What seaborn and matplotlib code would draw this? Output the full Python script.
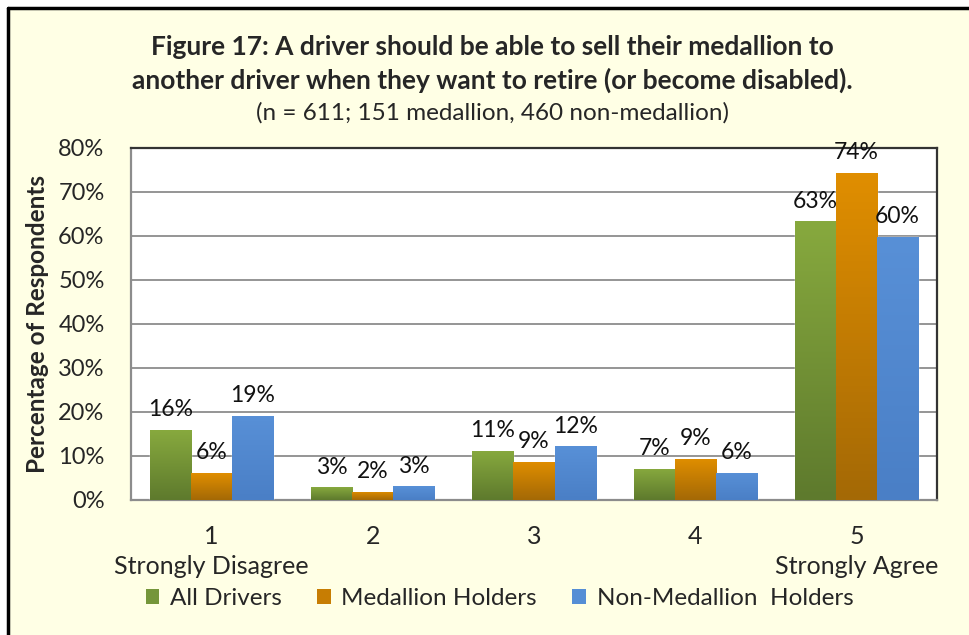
import numpy as np
import pandas as pd
import matplotlib
matplotlib.use("Agg")
import matplotlib.pyplot as plt
import seaborn as sns
from matplotlib.colors import LinearSegmentedColormap
from matplotlib.patches import Patch

# data
categories = ["1", "2", "3", "4", "5"]
tick_labels = ["1\nStrongly Disagree", "2", "3", "4", "5\nStrongly Agree"]
groups = ["All Drivers", "Medallion Holders", "Non-Medallion  Holders"]
all_drivers = [15.9, 2.9, 11.2, 7.1, 63.3]
medallion = [6.1, 1.9, 8.7, 9.4, 74.3]
non_medallion = [19.1, 3.1, 12.2, 6.2, 59.8]

df = pd.DataFrame({
    "category": categories * 3,
    "group": [groups[0]] * 5 + [groups[1]] * 5 + [groups[2]] * 5,
    "value": all_drivers + medallion + non_medallion,
})

# top / bottom colours of the bar gradients
grad = {
    groups[0]: ("#87A93E", "#5E7A2D"),
    groups[1]: ("#E08E00", "#A46906"),
    groups[2]: ("#5890D7", "#4A7FC6"),
}
mid = {"All Drivers": "#75963A", "Medallion Holders": "#C77D03",
       "Non-Medallion  Holders": "#558ED5"}

sns.set_theme(style="white")
plt.rcParams["font.family"] = ["Lato", "DejaVu Sans"]

bg = "#FFFFE5"
fig = plt.figure(figsize=(9.7, 6.35), dpi=100, facecolor="white")
# cream panel with black frame on left/top (cut off on right/bottom)
fig.patches.append(plt.Rectangle((8 / 970, 0), 1, 1 - 8 / 635, transform=fig.transFigure,
                                 facecolor=bg, edgecolor="none", zorder=-2))
fig.add_artist(plt.Line2D([8.5 / 970, 8.5 / 970], [0, 1 - 7.5 / 635], color="black", lw=2.5,
                          transform=fig.transFigure))
fig.add_artist(plt.Line2D([8.5 / 970, 1], [1 - 7.5 / 635, 1 - 7.5 / 635], color="black", lw=2.5,
                          transform=fig.transFigure))

ax = fig.add_axes([131 / 970, 1 - 500 / 635, (937 - 131) / 970, (500 - 148) / 635])
ax.set_facecolor("white")

sns.barplot(data=df, x="category", y="value", hue="group", order=categories,
            hue_order=groups, palette=mid, width=0.765, gap=0, ax=ax,
            legend=False, saturation=1, errorbar=None, zorder=3)

# gradient fill clipped to each bar
for cont, g in zip(ax.containers, groups):
    cmap = LinearSegmentedColormap.from_list(g, [grad[g][1], grad[g][0]])
    for bar in cont:
        x, w, h = bar.get_x(), bar.get_width(), bar.get_height()
        im = ax.imshow(np.linspace(0, 1, 100).reshape(-1, 1), cmap=cmap, origin="lower",
                       extent=[x, x + w, 0, h], aspect="auto", zorder=3.5)
        im.set_clip_path(bar)
    ax.bar_label(cont, labels=[f"{v:.0f}%" for v in cont.datavalues], padding=7,
                 fontsize=16.5, color="#111111", zorder=5)

ax.set_ylim(0, 80)
ax.set_xlim(-0.5, 4.5)

ax.set_yticks(range(0, 81, 10))
ax.set_yticklabels([f"{t}%" for t in range(0, 81, 10)], fontsize=17)
ax.yaxis.grid(True, color="#8C8C8C", lw=1.3, zorder=0)
ax.set_axisbelow(True)
ax.tick_params(axis="y", length=0, pad=19)

ax.set_xticks(range(5))
ax.set_xticklabels(tick_labels, fontsize=18, linespacing=1.35)
ax.set_xticks(np.arange(-0.5, 5, 1), minor=True)
ax.tick_params(axis="x", which="major", length=0, pad=18)
ax.tick_params(axis="x", which="minor", length=7, width=1.2, color="#8C8C8C", direction="out")
ax.set_xlabel("")

ax.set_ylabel("Percentage of Respondents", fontsize=17.5, fontweight="bold")
ax.yaxis.set_label_coords(-0.102, 0.5)

for s in ["top", "right"]:
    ax.spines[s].set_color("#333333")
    ax.spines[s].set_linewidth(1.6)
for s in ["left", "bottom"]:
    ax.spines[s].set_color("#8C8C8C")
    ax.spines[s].set_linewidth(1.6)

fig.text(0.508, 0.926, "Figure 17: A driver should be able to sell their medallion to",
         ha="center", va="center", fontsize=19, fontweight="bold")
fig.text(0.508, 0.874, "another driver when they want to retire (or become disabled).",
         ha="center", va="center", fontsize=19, fontweight="bold")
fig.text(0.508, 0.822, "(n = 611; 151 medallion, 460 non-medallion)",
         ha="center", va="center", fontsize=17.5)

handles = [Patch(facecolor=mid[g], edgecolor="none", label=g) for g in groups]
fig.legend(handles=handles, loc="center", bbox_to_anchor=(0.515, 0.057), ncol=3,
           frameon=False, fontsize=17.5, handlelength=0.55, handleheight=0.55,
           handletextpad=0.45, columnspacing=1.45)

fig.savefig("out.png", dpi=100, facecolor="white")
